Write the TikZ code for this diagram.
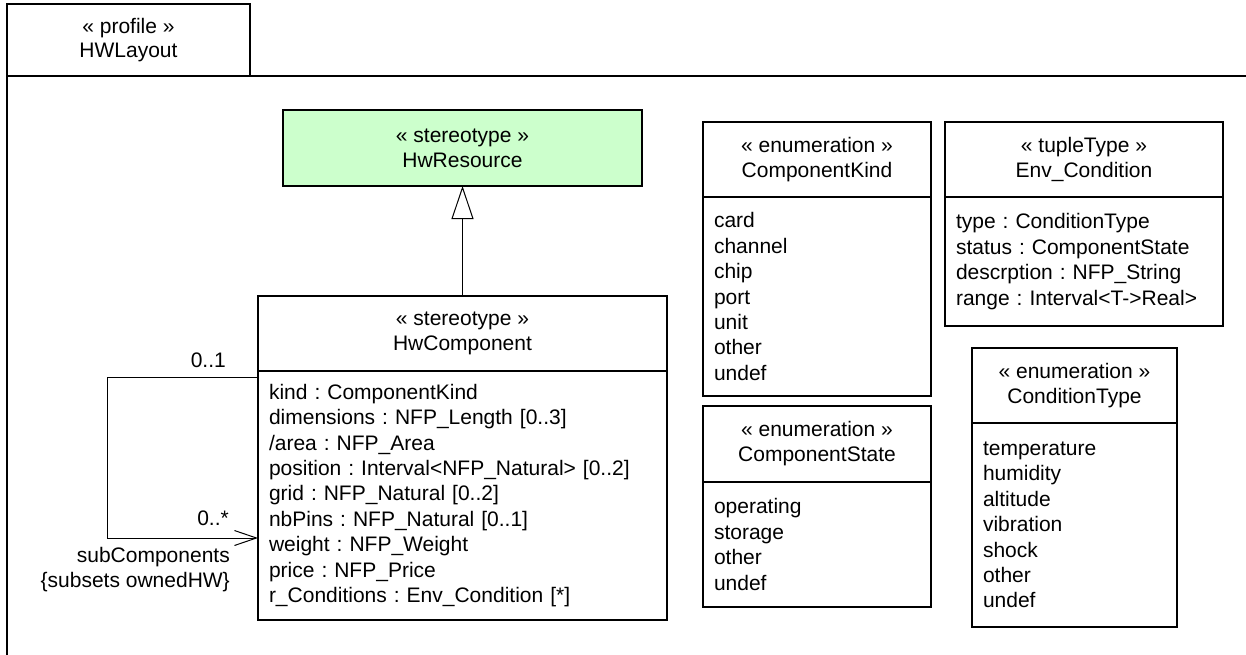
\documentclass[tikz,border=0pt]{standalone}
\usepackage{fontspec}
\setmainfont{Liberation Sans}
\frenchspacing
\usetikzlibrary{arrows.meta, positioning}
\definecolor{resgreen}{HTML}{CCFFCC}

\begin{document}
\begin{tikzpicture}[x=1pt, y=-1pt,
            classhead/.style={draw, line width=1.5pt, outer sep=0pt, inner sep=0pt, align=center, minimum height=75pt, font=\fontsize{21}{25}\selectfont},
            classbody/.style={draw, line width=1.5pt, outer sep=0pt, inner xsep=11pt, inner ysep=0pt, align=left, font=\fontsize{21}{25.4}\selectfont},
            multlabel/.style={inner sep=0pt, font=\fontsize{21}{25}\selectfont},
            conn/.style={line width=1pt}]
            \useasboundingbox (0,0) rectangle (1246,655);

            % Draw frame
            \coordinate (frameNE) at (1246,76);
            \coordinate (frameSW) at (7,655);
            \draw[line width=2pt] (frameSW) |- (frameNE);
            \node[classhead, line width=2pt, minimum width=243pt, minimum height=72pt, font=\fontsize{21}{24}\selectfont] (profile) at (128.5,40) {« profile »\\HWLayout};

            % Draw nodes
            \node[classhead, fill=resgreen, minimum width=359pt, minimum height=76pt] (hwres) at (462.5,148) {« stereotype »\\HwResource};

            \node[classhead, minimum width=409pt] (hwcomp) at (462.5,333.5) {« stereotype »\\HwComponent};
            \node[classbody, text width=387pt, minimum height=249pt, below=0pt of hwcomp] (hwcompattr) {kind : ComponentKind\\dimensions : NFP\_Length [0..3]\\/area : NFP\_Area\\position : Interval<NFP\_Natural> [0..2]\\grid : NFP\_Natural [0..2]\\nbPins : NFP\_Natural [0..1]\\weight : NFP\_Weight\\price : NFP\_Price\\r\_Conditions : Env\_Condition [*]};

            \node[classhead, minimum width=228pt] (compkind) at (817,159.5) {« enumeration »\\ComponentKind};
            \node[classbody, text width=206pt, minimum height=199pt, below=0pt of compkind] (compkindlit) {card\\channel\\chip\\port\\unit\\other\\undef};

            \node[classhead, minimum width=228pt, minimum height=76pt] (compstate) at (817,444) {« enumeration »\\ComponentState};
            \node[classbody, text width=206pt, minimum height=125pt, below=0pt of compstate] (compstatelit) {operating\\storage\\other\\undef};

            \node[classhead, minimum width=278pt] (envcond) at (1084,159.5) {« tupleType »\\Env\_Condition};
            \node[classbody, text width=256pt, minimum height=129pt, below=0pt of envcond] (envcondattr) {type : ConditionType\\status : ComponentState\\descrption : NFP\_String\\range : Interval<T->Real>};

            \node[classhead, minimum width=205pt] (condtype) at (1074.5,385.5) {« enumeration »\\ConditionType};
            \node[classbody, text width=183pt, minimum height=204pt, below=0pt of condtype] (condtypelit) {temperature\\humidity\\altitude\\vibration\\shock\\other\\undef};

            % Draw connections
            \draw[conn, -{Triangle[open, length=33pt, width=22pt]}] (hwcomp) -- (hwres);

            \coordinate (loopTop) at (107,377);
            \coordinate (loopBot) at (107,538);
            \draw[conn, -{Straight Barb[length=22pt, width=15pt]}] (hwcompattr.west |- loopTop) -- (loopTop) -- (loopBot) -- (hwcompattr.west |- loopBot);
            \node[multlabel, anchor=east] (multone) at (226,360) {0..1};
            \node[multlabel, anchor=east] (multmany) at (229,518) {0..*};
            \node[multlabel, anchor=east, align=right] (subcomp) at (230,569.5) {subComponents\\\{subsets ownedHW\}};
        \end{tikzpicture}
\end{document}
